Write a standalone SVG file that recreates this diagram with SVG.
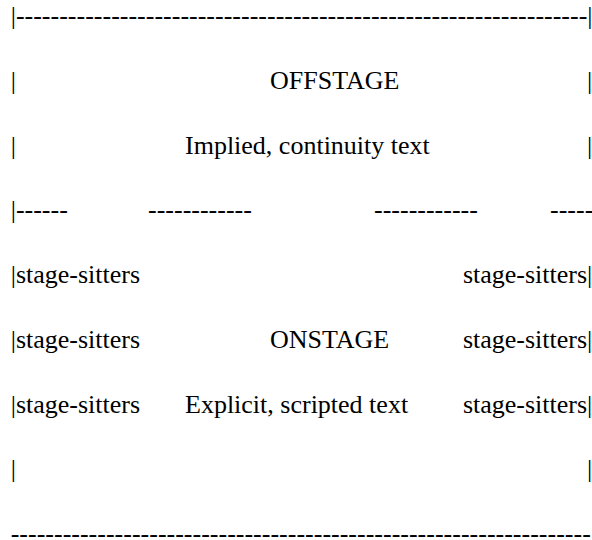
<svg xmlns="http://www.w3.org/2000/svg" width="592" height="540" viewBox="0 0 592 540">
<style>
text { font-family: "Liberation Serif", "Times New Roman", serif; font-size: 26px; fill: #000; white-space: pre; }
.r { text-anchor: end; }
</style>
<rect width="592" height="540" fill="#fff"/>
<g id="offstage-border">
<text x="10.7" y="24.3">|------------------------------------------------------------------|</text>
<text x="10.7" y="89">|</text><text class="r" x="592.3" y="89">|</text>
<text x="10.7" y="153.7">|</text><text class="r" x="592.3" y="153.7">|</text>
</g>
<g id="offstage">
<text x="270" y="89">OFFSTAGE</text>
<text x="185" y="153.7">Implied, continuity text</text>
</g>
<g id="divider">
<text x="10.7" y="218.4">|------</text>
<text x="148" y="218.4">------------</text>
<text x="374" y="218.4">------------</text>
<text x="550" y="218.4">-----</text>
</g>
<g id="stage-sitters-left">
<text x="10.7" y="283.1">|stage-sitters</text>
<text x="10.7" y="347.8">|stage-sitters</text>
<text x="10.7" y="412.5">|stage-sitters</text>
</g>
<g id="stage-sitters-right">
<text class="r" x="592.3" y="283.1">stage-sitters|</text>
<text class="r" x="592.3" y="347.8">stage-sitters|</text>
<text class="r" x="592.3" y="412.5">stage-sitters|</text>
</g>
<g id="onstage">
<text x="270" y="347.8">ONSTAGE</text>
<text x="185" y="412.5">Explicit, scripted text</text>
</g>
<g id="onstage-border">
<text x="10.7" y="477.2">|</text><text class="r" x="592.3" y="477.2">|</text>
<text x="10.7" y="541.9">-------------------------------------------------------------------</text>
</g>
</svg>
